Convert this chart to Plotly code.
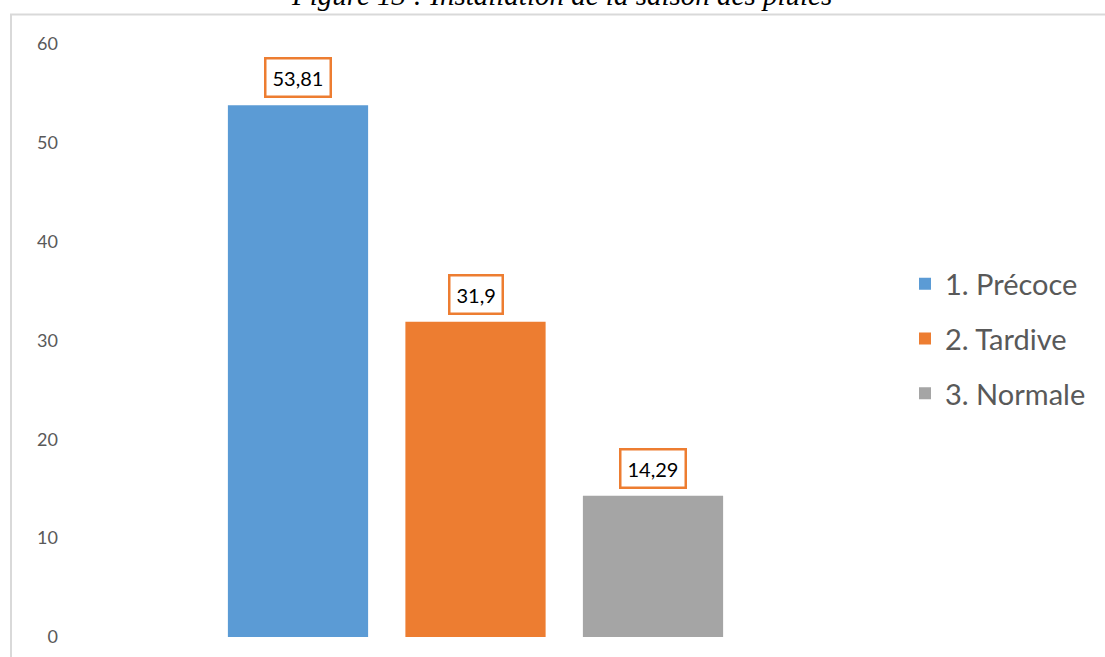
import plotly.graph_objects as go

categories = ["1. Précoce", "2. Tardive", "3. Normale"]
values = [53.81, 31.9, 14.29]
labels = ["53,81", "31,9", "14,29"]
colors = ["#5B9BD5", "#ED7D31", "#A5A5A5"]
yticks = [0, 10, 20, 30, 40, 50, 60]
title_text = "Figure 13 : Installation de la saison des pluies"

W, H = 1105, 657
ML, MR, MT, MB = 75, 205, 44, 20
PW = W - ML - MR
PH = H - MT - MB

fig = go.Figure()
for i, (c, v, col) in enumerate(zip(categories, values, colors)):
    fig.add_trace(go.Bar(
        x=[i], y=[v], name=c, width=0.79,
        marker=dict(color=col, line=dict(width=0)),
        legendgroup=c, hoverinfo="skip",
    ))
    fig.add_annotation(
        x=i, y=v, text=labels[i], showarrow=False,
        xref="x", yref="y", yanchor="bottom", yshift=7,
        font=dict(family="Lato, Noto Sans, sans-serif", size=20, color="#000000"),
        bordercolor="#ED7D31", borderwidth=2.5, borderpad=6, bgcolor="#FFFFFF",
    )

fig.add_annotation(
    x=(561 - ML) / PW, y=1 + (MT - 13.5) / PH, xref="paper", yref="paper",
    xanchor="center", yanchor="bottom", showarrow=False,
    text="<i>" + title_text + "</i>",
    font=dict(family="Liberation Serif, DejaVu Serif, serif", size=29, color="#000000"),
)

fig.add_shape(
    type="rect", xref="paper", yref="paper",
    x0=(11 - ML) / PW, x1=1.5, y0=-0.5, y1=1 + (MT - 14.5) / PH,
    line=dict(color="#D9D9D9", width=2), fillcolor="rgba(0,0,0,0)", layer="below",
)

fig.update_layout(
    width=W, height=H,
    margin=dict(l=ML, r=MR, t=MT, b=MB, autoexpand=False),
    paper_bgcolor="#FFFFFF", plot_bgcolor="#FFFFFF",
    barmode="overlay",
    showlegend=True,
    legend=dict(
        x=905 / W, xref="container", xanchor="left",
        y=1 - 339 / H, yref="container", yanchor="middle",
        font=dict(family="Lato, Noto Sans, sans-serif", size=29, color="#595959"),
        tracegroupgap=14, itemwidth=30,
        bgcolor="rgba(0,0,0,0)",
    ),
    xaxis=dict(
        range=[-(298 - ML) / 177.5, 2 + (ML + PW - 653) / 177.5],
        showticklabels=False, showgrid=False, zeroline=False, showline=False,
        fixedrange=True, automargin=False,
    ),
    yaxis=dict(
        range=[0, 60], tickvals=yticks, ticktext=[str(t) for t in yticks],
        showgrid=False, zeroline=False, showline=False,
        tickfont=dict(family="Lato, Noto Sans, sans-serif", size=18, color="#595959"),
        ticklabelstandoff=16, fixedrange=True, automargin=False,
    ),
)

fig.write_html("out.html")
